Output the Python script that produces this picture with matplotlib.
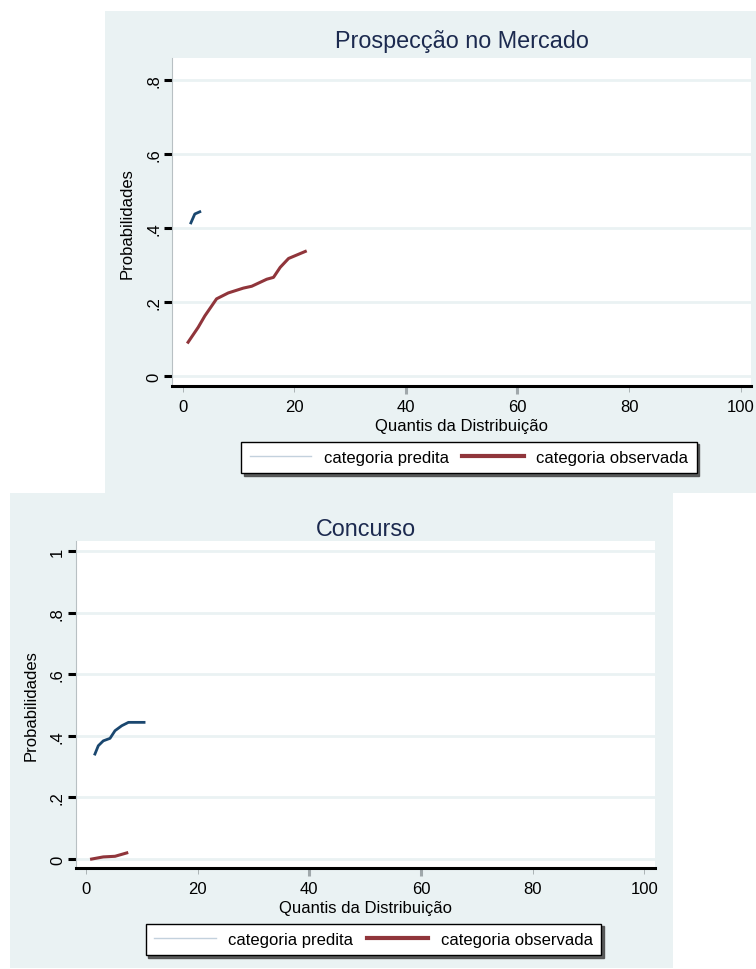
import matplotlib.pyplot as plt
from matplotlib.lines import Line2D
from matplotlib.patches import Rectangle

plt.rcParams['font.family'] = ['Liberation Sans', 'DejaVu Sans']

# Prospecção no Mercado
pm_pred_x = [1.5, 2.2, 3.1]
pm_pred_y = [0.414, 0.438, 0.444]
pm_obs_x = [1.0, 2.8, 4.0, 6.1, 8.2, 10.9, 12.4, 15.1, 16.3, 17.5, 19.0, 22.0]
pm_obs_y = [0.092, 0.132, 0.163, 0.209, 0.225, 0.238, 0.243, 0.262, 0.267, 0.294, 0.318, 0.337]

# Concurso
co_pred_x = [1.6, 2.2, 3.1, 4.3, 5.2, 6.4, 7.6, 10.4]
co_pred_y = [0.341, 0.368, 0.384, 0.392, 0.417, 0.433, 0.444, 0.444]
co_obs_x = [1.0, 3.1, 5.2, 7.3]
co_obs_y = [0.0, 0.007, 0.009, 0.020]

xticks = [0, 20, 40, 60, 80, 100]
yticks_top = [0, 0.2, 0.4, 0.6, 0.8]
ylabels_top = ['0', '.2', '.4', '.6', '.8']
yticks_bot = [0, 0.2, 0.4, 0.6, 0.8, 1.0]
ylabels_bot = ['0', '.2', '.4', '.6', '.8', '1']

BG = '#eaf2f3'
BLUE = '#1a476f'
RED = '#90353b'
TITLE = '#1c2a4f'

W, H = 756, 970
fig = plt.figure(figsize=(W / 100, H / 100), dpi=100)

# panel backgrounds (pixel boxes -> figure fraction)
fig.patches.append(Rectangle((105 / W, 1 - 494 / H), 1 - 105 / W, (494 - 12) / H,
                             transform=fig.transFigure, facecolor=BG, edgecolor='none', zorder=-10))
fig.patches.append(Rectangle((10 / W, 1 - 969 / H), (673 - 10) / W, (969 - 494) / H,
                             transform=fig.transFigure, facecolor=BG, edgecolor='none', zorder=-10))


def style(ax, title, yt, yl, ylim, xlim, tpad):
    ax.set_facecolor('white')
    ax.set_xlim(xlim)
    ax.set_ylim(ylim)
    ax.set_xticks(xticks)
    ax.set_xticklabels([str(v) for v in xticks], fontsize=12)
    ax.set_yticks(yt)
    ax.set_yticklabels(yl, fontsize=12, rotation=90, va='center')
    for v in yt:
        ax.axhline(v, color=BG, lw=2, zorder=1)
    for s in ['top', 'right']:
        ax.spines[s].set_visible(False)
    ax.spines['left'].set_color('#b8c0c3')
    ax.spines['left'].set_linewidth(0.8)
    ax.spines['bottom'].set_color('black')
    ax.spines['bottom'].set_linewidth(2.2)
    ax.tick_params(axis='y', length=6, width=2.2, color='black', pad=2)
    ax.tick_params(axis='x', length=4, width=0.6, color='#a0a8ab', pad=5)
    for tick, loc in zip(ax.xaxis.get_major_ticks(), xticks):
        if loc in (40, 60):
            tick.tick1line.set_color('black')
            tick.tick1line.set_markeredgewidth(2.2)
            tick.tick1line.set_markersize(6)
    ax.set_title(title, fontsize=16.8, color=TITLE, pad=tpad)
    ax.set_xlabel('Quantis da Distribuição', fontsize=12, labelpad=3)
    ax.set_ylabel('Probabilidades', fontsize=12, labelpad=8)


def legend(x0, x1, yc):
    handles = [Line2D([], [], color='#c3d1dd', lw=1),
               Line2D([], [], color=RED, lw=3)]
    lg = fig.legend(handles, ['categoria predita', 'categoria observada'],
                    loc='center', ncol=2,
                    bbox_to_anchor=((x0 + x1) / 2 / W, 1 - yc / H),
                    borderaxespad=0, fontsize=12, handlelength=3.7, columnspacing=0.8,
                    handletextpad=0.75, borderpad=0.5, fancybox=False, edgecolor='black',
                    shadow={'alpha': 0.9}, framealpha=1)
    lg.get_frame().set_linewidth(1.0)


ax1 = fig.add_axes([172.3 / W, 1 - 387.3 / H, (750.7 - 172.3) / W, (387.3 - 59) / H])
style(ax1, 'Prospecção no Mercado', yticks_top, ylabels_top, (-0.027, 0.859), (-1.83, 101.8), 8)
ax1.plot(pm_pred_x, pm_pred_y, color=BLUE, lw=2, zorder=3)
ax1.plot(pm_obs_x, pm_obs_y, color=RED, lw=2.2, zorder=3)
legend(238, 700, 458.5)

ax2 = fig.add_axes([76 / W, 1 - 869.3 / H, (655 - 76) / W, (869.3 - 541.7) / H])
style(ax2, 'Concurso', yticks_bot, ylabels_bot, (-0.030, 1.034), (-1.79, 101.9), 4)
ax2.plot(co_pred_x, co_pred_y, color=BLUE, lw=2, zorder=3)
ax2.plot(co_obs_x, co_obs_y, color=RED, lw=2.2, zorder=3)
legend(142.7, 604, 940.5)

fig.savefig('out.png', dpi=100)
